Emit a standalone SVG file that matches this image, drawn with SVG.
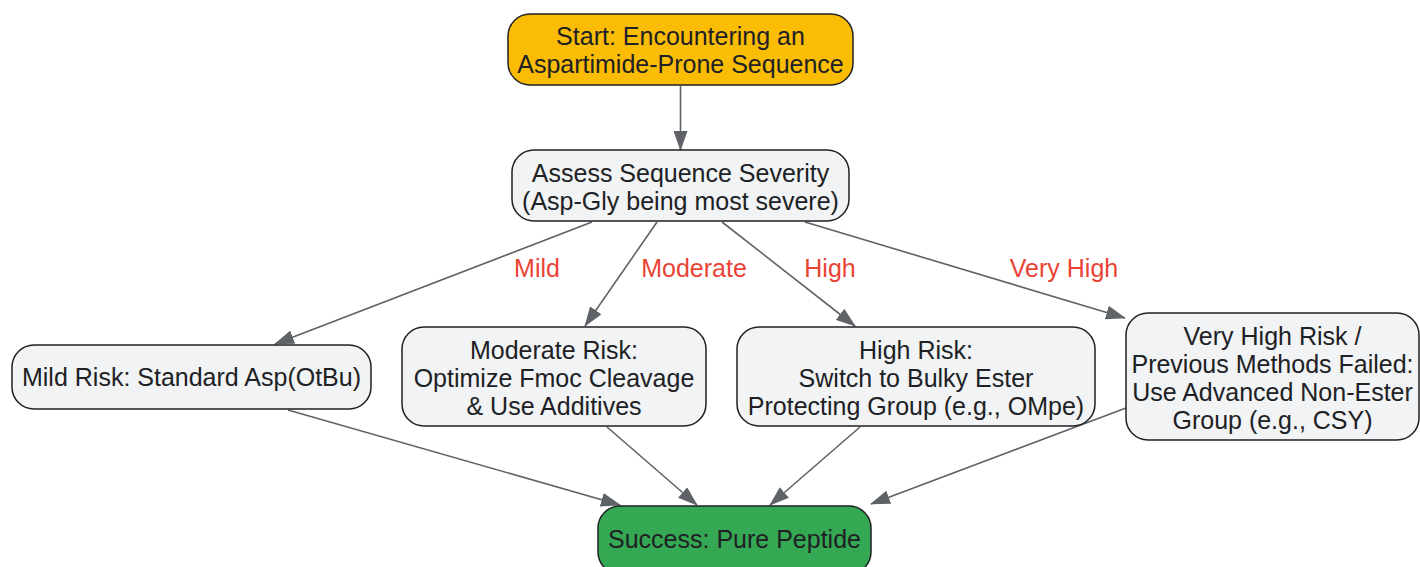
<svg xmlns="http://www.w3.org/2000/svg" width="1420" height="567" viewBox="0 0 1420 567">
<defs>
<marker id="arr" markerWidth="20" markerHeight="14" refX="19" refY="7" orient="auto" markerUnits="userSpaceOnUse">
<path d="M0,0 L20,7 L0,14 Z" fill="#5f6368"/>
</marker>
<style>
.n{stroke:#202124;stroke-width:1.5}
.g{fill:#f1f3f4}
.t{font-family:"Liberation Sans",Arial,sans-serif;font-size:25px;fill:#202124;text-anchor:middle}
.e{stroke:#5f6368;stroke-width:1.6;fill:none;marker-end:url(#arr)}
.l{font-family:"Liberation Sans",Arial,sans-serif;font-size:25px;fill:#ea4335;text-anchor:middle}
</style>
</defs>
<rect width="1420" height="567" fill="#ffffff"/>
<g id="edges">
<line class="e" x1="680.5" y1="86" x2="680.5" y2="150"/>
<line class="e" x1="592" y1="222" x2="275" y2="344"/>
<line class="e" x1="657" y1="222" x2="585" y2="326"/>
<line class="e" x1="722" y1="222" x2="855" y2="326"/>
<line class="e" x1="805" y1="222" x2="1125" y2="318"/>
<line class="e" x1="288" y1="410" x2="620" y2="505"/>
<line class="e" x1="607" y1="427" x2="697" y2="505"/>
<line class="e" x1="860" y1="427" x2="770" y2="505"/>
<line class="e" x1="1126" y1="408" x2="871" y2="504"/>
<text class="l" x="537" y="277">Mild</text>
<text class="l" x="694" y="277">Moderate</text>
<text class="l" x="830" y="277">High</text>
<text class="l" x="1064" y="277">Very High</text>
</g>
<g id="start">
<rect class="n" x="508" y="14" width="345" height="71" rx="22" fill="#fbbc04"/>
<text class="t" x="680.5" y="45">Start: Encountering an</text>
<text class="t" x="680.5" y="73">Aspartimide-Prone Sequence</text>
</g>
<g id="assess">
<rect class="n g" x="512" y="150" width="337" height="71" rx="22"/>
<text class="t" x="680.5" y="182">Assess Sequence Severity</text>
<text class="t" x="680.5" y="210">(Asp-Gly being most severe)</text>
</g>
<g id="mild">
<rect class="n g" x="12" y="345" width="359" height="64" rx="22"/>
<text class="t" x="191.5" y="386">Mild Risk: Standard Asp(OtBu)</text>
</g>
<g id="moderate">
<rect class="n g" x="402" y="327" width="304" height="99" rx="22"/>
<text class="t" x="554" y="359">Moderate Risk:</text>
<text class="t" x="554" y="387">Optimize Fmoc Cleavage</text>
<text class="t" x="554" y="415">&amp; Use Additives</text>
</g>
<g id="high">
<rect class="n g" x="737" y="327" width="358" height="99" rx="22"/>
<text class="t" x="916" y="359">High Risk:</text>
<text class="t" x="916" y="387">Switch to Bulky Ester</text>
<text class="t" x="916" y="415">Protecting Group (e.g., OMpe)</text>
</g>
<g id="veryhigh">
<rect class="n g" x="1126" y="313" width="293" height="127" rx="22"/>
<text class="t" x="1272.5" y="345">Very High Risk /</text>
<text class="t" x="1272.5" y="373">Previous Methods Failed:</text>
<text class="t" x="1272.5" y="401">Use Advanced Non-Ester</text>
<text class="t" x="1272.5" y="429">Group (e.g., CSY)</text>
</g>
<g id="success">
<rect class="n" x="598" y="506" width="273" height="68" rx="22" fill="#34a853"/>
<text class="t" x="734.5" y="548">Success: Pure Peptide</text>
</g>
</svg>
